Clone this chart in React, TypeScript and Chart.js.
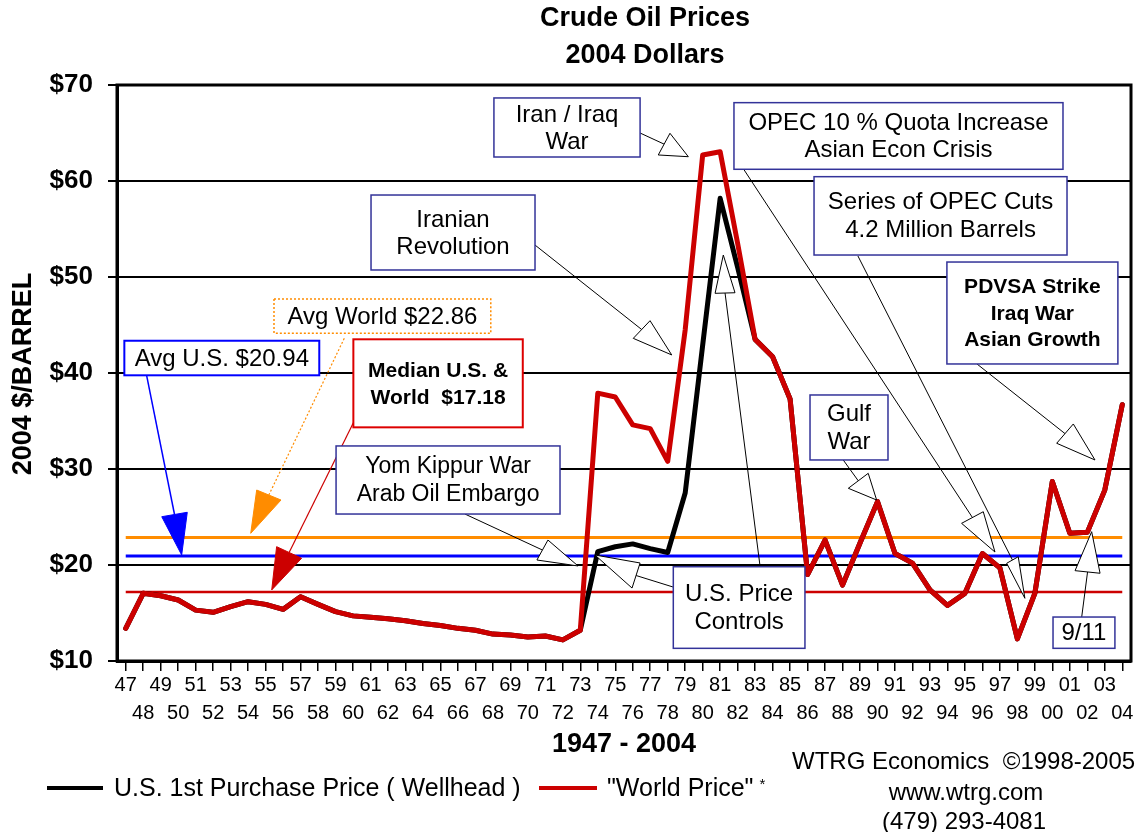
import React, { useEffect, useRef } from 'react';
import { Chart, registerables } from 'chart.js';

Chart.register(...registerables);

const FONT = "'Liberation Sans', Arial, Helvetica, sans-serif";

// ---- data ----
const YEARS = ['47','48','49','50','51','52','53','54','55','56','57','58','59','60','61','62','63','64','65','66','67','68','69','70','71','72','73','74','75','76','77','78','79','80','81','82','83','84','85','86','87','88','89','90','91','92','93','94','95','96','97','98','99','00','01','02','03','04'];

const WORLD_PRICE = [
  13.4, 17.05, 16.8, 16.35, 15.3, 15.07, 15.66, 16.18, 15.9, 15.38,
  16.7, 15.9, 15.14, 14.7, 14.55, 14.4, 14.2, 13.9, 13.7, 13.4,
  13.2, 12.8, 12.7, 12.5, 12.6, 12.2, 13.2, 37.9, 37.5, 34.6,
  34.2, 30.8, 44.5, 62.7, 63.05, 53.5, 43.5, 41.7, 37.3, 19.0,
  22.6, 17.9, 22.3, 26.6, 21.2, 20.2, 17.4, 15.8, 17.05, 21.2,
  19.7, 12.3, 17.05, 28.7, 23.3, 23.4, 27.8, 36.7,
];

const US_WELLHEAD = [
  13.4, 17.05, 16.8, 16.35, 15.3, 15.07, 15.66, 16.18, 15.9, 15.38,
  16.7, 15.9, 15.14, 14.7, 14.55, 14.4, 14.2, 13.9, 13.7, 13.4,
  13.2, 12.8, 12.7, 12.5, 12.6, 12.2, 13.2, 21.4, 21.9, 22.2,
  21.7, 21.3, 27.5, 42.9, 58.2, 51.0, 43.5, 41.7, 37.3, 19.0,
  22.6, 17.9, 22.3, 26.6, 21.2, 20.2, 17.4, 15.8, 17.05, 21.2,
  19.7, 12.3, 17.05, 28.7, 23.3, 23.4, 27.8, 36.7,
];

const AVG_WORLD = 22.86;
const AVG_US = 20.94;
const MEDIAN = 17.18;

const Y_MIN = 10;
const Y_MAX = 70;
const Y_STEP = 10;

const SERIES_LABELS = ['U.S. 1st Purchase Price ( Wellhead )', '"World Price"'];

// ---- annotations (positions in data space: [category index, dollars]) ----
type Pt = [number, number];
type Box = { x0: number; x1: number; top: number; bottom: number; lines: string[]; font: string; lh: number; stroke: string; lw: number; dash?: number[] };
type Arrow = { from: Pt; b1: Pt; b2: Pt; tip: Pt; line: string; fill: string; head: string; lw: number; dash?: number[] };

const NAVY = '#333399';
const REG = (s: number) => `${s}px ${FONT}`;
const BOLD = (s: number) => `bold ${s}px ${FONT}`;

const BOXES: Box[] = [
  { x0: -0.08, x1: 11.07, top: 43.36, bottom: 39.76, lines: ['Avg U.S. $20.94'], font: REG(24), lh: 27, stroke: '#0000ff', lw: 2 },
  { x0: 8.48, x1: 20.88, top: 47.71, bottom: 44.14, lines: ['Avg World $22.86'], font: REG(24), lh: 27, stroke: '#ff8c00', lw: 1.5, dash: [2, 2] },
  { x0: 13.02, x1: 22.71, top: 43.51, bottom: 34.34, lines: ['Median U.S. &', 'World  $17.18'], font: BOLD(21), lh: 27, stroke: '#dd0000', lw: 2 },
  { x0: 12.03, x1: 24.84, top: 32.4, bottom: 25.31, lines: ['Yom Kippur War', 'Arab Oil Embargo'], font: REG(23), lh: 28, stroke: NAVY, lw: 1.5 },
  { x0: 31.32, x1: 38.85, top: 19.82, bottom: 11.32, lines: ['U.S. Price', 'Controls'], font: REG(24), lh: 28, stroke: NAVY, lw: 1.5 },
  { x0: 14.03, x1: 23.41, top: 58.54, bottom: 50.73, lines: ['Iranian', 'Revolution'], font: REG(24), lh: 27, stroke: NAVY, lw: 1.5 },
  { x0: 21.06, x1: 29.42, top: 68.65, bottom: 62.5, lines: ['Iran / Iraq', 'War'], font: REG(24), lh: 27, stroke: NAVY, lw: 1.5 },
  { x0: 34.79, x1: 53.61, top: 68.16, bottom: 61.22, lines: ['OPEC 10 % Quota Increase', 'Asian Econ Crisis'], font: REG(24), lh: 27, stroke: NAVY, lw: 1.5 },
  { x0: 39.37, x1: 53.84, top: 60.45, bottom: 52.29, lines: ['Series of OPEC Cuts', '4.2 Million Barrels'], font: REG(24), lh: 28, stroke: NAVY, lw: 1.5 },
  { x0: 46.97, x1: 56.75, top: 51.56, bottom: 40.94, lines: ['PDVSA Strike', 'Iraq War', 'Asian Growth'], font: BOLD(21), lh: 26.5, stroke: NAVY, lw: 1.5 },
  { x0: 39.14, x1: 43.6, top: 37.71, bottom: 30.94, lines: ['Gulf', 'War'], font: REG(24), lh: 28, stroke: NAVY, lw: 1.5 },
  { x0: 53.04, x1: 56.58, top: 14.58, bottom: 11.32, lines: ['9/11'], font: REG(24), lh: 27, stroke: NAVY, lw: 1.5 },
];

const OPEN = { line: '#000', fill: '#fff', head: '#000', lw: 1 };

const ARROWS: Arrow[] = [
  { from: [1.2, 39.69], b1: [2.06, 25.03], b2: [3.52, 25.49], tip: [3.2, 21.04], line: '#0000ff', fill: '#0000ff', head: '#0000ff', lw: 1.5 },
  { from: [12.5, 43.61], b1: [7.49, 27.81], b2: [8.88, 26.77], tip: [7.15, 23.3], line: '#ff8c00', fill: '#ff8c00', head: '#ff8c00', lw: 1.2, dash: [2, 2] },
  { from: [13.02, 34.82], b1: [8.63, 21.91], b2: [10.06, 20.7], tip: [8.35, 17.4], line: '#cc0000', fill: '#cc0000', head: '#cc0000', lw: 1.2 },
  { from: [19.4, 25.31], b1: [23.52, 20.52], b2: [24.15, 22.6], tip: [25.87, 19.9], ...OPEN },
  { from: [31.3, 17.71], b1: [28.96, 17.6], b2: [29.42, 20.21], tip: [26.84, 21.04], ...OPEN },
  { from: [36.28, 19.9], b1: [33.71, 48.3], b2: [34.85, 48.36], tip: [34.18, 52.29], ...OPEN },
  { from: [23.41, 53.33], b1: [29.03, 43.61], b2: [29.99, 45.45], tip: [31.23, 41.88], ...OPEN },
  { from: [29.42, 65.0], b1: [30.46, 62.71], b2: [31.13, 64.97], tip: [32.18, 62.53], ...OPEN },
  { from: [35.3, 61.35], b1: [47.81, 24.34], b2: [49.05, 25.55], tip: [49.72, 21.35], ...OPEN },
  { from: [41.88, 52.19], b1: [50.39, 20.18], b2: [51.05, 20.86], tip: [51.43, 16.53], ...OPEN },
  { from: [48.69, 40.94], b1: [53.25, 32.68], b2: [54.2, 34.69], tip: [55.44, 30.94], ...OPEN },
  { from: [41.04, 30.94], b1: [41.33, 27.99], b2: [42.47, 29.55], tip: [42.95, 26.77], ...OPEN },
  { from: [54.68, 14.58], b1: [54.3, 19.41], b2: [55.73, 19.14], tip: [55.25, 23.47], ...OPEN },
];

const overlayPlugin = {
  id: 'overlay',
  afterDatasetsDraw(chart: any) {
    const ctx = chart.ctx as CanvasRenderingContext2D;
    const xs = chart.scales.x;
    const ys = chart.scales.y;
    const P = (p: Pt): Pt => [xs.getPixelForValue(p[0]), ys.getPixelForValue(p[1])];
    const ca = chart.chartArea;
    ctx.save();
    // plot frame
    ctx.strokeStyle = '#000';
    ctx.lineWidth = 3;
    ctx.strokeRect(ca.left, ca.top, ca.right - ca.left, ca.bottom - ca.top);

    // arrows
    ARROWS.forEach((a) => {
      const [fx, fy] = P(a.from);
      const [b1x, b1y] = P(a.b1);
      const [b2x, b2y] = P(a.b2);
      const [tx, ty] = P(a.tip);
      ctx.beginPath();
      ctx.setLineDash(a.dash || []);
      ctx.strokeStyle = a.line;
      ctx.lineWidth = a.lw;
      ctx.moveTo(fx, fy);
      ctx.lineTo((b1x + b2x) / 2, (b1y + b2y) / 2);
      ctx.stroke();
      ctx.setLineDash([]);
      ctx.beginPath();
      ctx.moveTo(b1x, b1y);
      ctx.lineTo(tx, ty);
      ctx.lineTo(b2x, b2y);
      ctx.closePath();
      ctx.fillStyle = a.fill;
      ctx.fill();
      ctx.lineWidth = 1;
      ctx.strokeStyle = a.head;
      ctx.stroke();
    });

    // boxes
    BOXES.forEach((b) => {
      const [x0, y0] = P([b.x0, b.top]);
      const [x1, y1] = P([b.x1, b.bottom]);
      ctx.fillStyle = '#fff';
      ctx.fillRect(x0, y0, x1 - x0, y1 - y0);
      ctx.setLineDash(b.dash || []);
      ctx.strokeStyle = b.stroke;
      ctx.lineWidth = b.lw;
      ctx.strokeRect(x0, y0, x1 - x0, y1 - y0);
      ctx.setLineDash([]);
      ctx.fillStyle = '#000';
      ctx.font = b.font;
      ctx.textAlign = 'center';
      ctx.textBaseline = 'middle';
      const cx = (x0 + x1) / 2;
      const cy = (y0 + y1) / 2;
      const n = b.lines.length;
      b.lines.forEach((t, i) => {
        ctx.fillText(t, cx, cy + (i - (n - 1) / 2) * b.lh + 1);
      });
    });
    ctx.restore();
  },
  afterDraw(chart: any) {
    const ctx = chart.ctx as CanvasRenderingContext2D;
    const ca = chart.chartArea;
    ctx.save();
    ctx.fillStyle = '#000';
    ctx.textBaseline = 'middle';
    ctx.textAlign = 'center';
    // title
    ctx.font = BOLD(27);
    ctx.fillText('Crude Oil Prices', 645, 19);
    ctx.fillText('2004 Dollars', 645, 56);
    // x axis title
    ctx.fillText('1947 - 2004', (ca.left + ca.right) / 2, 745);
    // y axis title
    ctx.save();
    ctx.translate(24, (ca.top + ca.bottom) / 2 + 1);
    ctx.rotate(-Math.PI / 2);
    ctx.fillText('2004 $/BARREL', 0, 0);
    ctx.restore();

    // legend
    const ly = 788;
    ctx.lineWidth = 4;
    ctx.strokeStyle = '#000';
    ctx.beginPath();
    ctx.moveTo(47, ly);
    ctx.lineTo(103, ly);
    ctx.stroke();
    ctx.strokeStyle = '#cc0000';
    ctx.beginPath();
    ctx.moveTo(539, ly);
    ctx.lineTo(597, ly);
    ctx.stroke();
    ctx.textAlign = 'left';
    ctx.font = REG(25);
    ctx.fillText(SERIES_LABELS[0], 114, ly + 1);
    ctx.fillText(SERIES_LABELS[1], 607, ly + 1);
    const w = ctx.measureText(SERIES_LABELS[1]).width;
    ctx.font = REG(15);
    ctx.fillText('*', 607 + w + 6, ly - 3);

    // credits
    ctx.font = REG(24);
    ctx.fillText('WTRG Economics  \u00A91998-2005', 792, 762);
    ctx.textAlign = 'center';
    ctx.fillText('www.wtrg.com', 966, 793);
    ctx.fillText('(479) 293-4081', 964, 822);
    ctx.restore();
  },
};

export default function App() {
  const ref = useRef<HTMLCanvasElement | null>(null);

  useEffect(() => {
    document.body.style.margin = '0';
    const canvas = ref.current;
    if (!canvas) return;
    const flat = (v: number) => YEARS.map(() => v);
    const chart = new Chart(canvas, {
      type: 'line',
      data: {
        labels: YEARS,
        datasets: [
          { label: SERIES_LABELS[1], data: WORLD_PRICE, borderColor: '#cc0000', borderWidth: 5, pointRadius: 0, tension: 0, borderJoinStyle: 'round', borderCapStyle: 'round' },
          { label: SERIES_LABELS[0], data: US_WELLHEAD, borderColor: '#000000', borderWidth: 5, pointRadius: 0, tension: 0, borderJoinStyle: 'round', borderCapStyle: 'round' },
          { label: 'Avg World', data: flat(AVG_WORLD), borderColor: '#ff8c00', borderWidth: 3, pointRadius: 0 },
          { label: 'Avg U.S.', data: flat(AVG_US), borderColor: '#0000ff', borderWidth: 3, pointRadius: 0 },
          { label: 'Median', data: flat(MEDIAN), borderColor: '#cc0000', borderWidth: 2.5, pointRadius: 0 },
        ],
      },
      options: {
        responsive: false,
        animation: false,
        devicePixelRatio: 1,
        layout: { padding: { top: 85, right: 17, left: 0, bottom: 0 } },
        plugins: { legend: { display: false }, title: { display: false }, tooltip: { enabled: false } },
        scales: {
          x: {
            type: 'category',
            offset: true,
            afterFit: (s: any) => { s.height = 171; },
            grid: { display: true, drawOnChartArea: false, offset: false, tickLength: 10, color: '#000', lineWidth: 1.5 },
            border: { display: true, color: '#000', width: 3 },
            ticks: {
              autoSkip: false,
              maxRotation: 0,
              minRotation: 0,
              padding: 0,
              color: '#000',
              font: { family: FONT, size: 20, lineHeight: 1.4 },
              callback: (_v: any, i: number) => (i % 2 === 0 ? YEARS[i] : ['', YEARS[i]]),
            },
          },
          y: {
            min: Y_MIN,
            max: Y_MAX,
            afterFit: (s: any) => { s.width = 117; },
            grid: { color: '#000', lineWidth: 2, tickLength: 9 },
            border: { display: true, color: '#000', width: 3 },
            ticks: {
              stepSize: Y_STEP,
              padding: 15,
              color: '#000',
              font: { family: FONT, size: 26, weight: 'bold' },
              callback: (v: any) => '$' + v,
            },
          },
        },
      },
      plugins: [overlayPlugin],
    } as any);
    return () => chart.destroy();
  }, []);

  return (
    <div style={{ width: 1148, height: 832, background: '#fff' }}>
      <canvas ref={ref} width={1148} height={832} style={{ display: 'block', position: 'absolute', left: 0, top: 0 }} />
    </div>
  );
}
